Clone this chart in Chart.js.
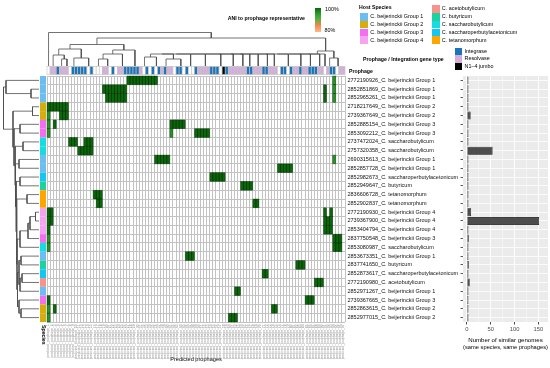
<!DOCTYPE html>
<html>
<head>
<meta charset="utf-8">
<title>Prophage ANI heatmap</title>
<script src="https://cdn.jsdelivr.net/npm/chart.js@4.4.1/dist/chart.umd.min.js"></script>
<style>
  html, body { margin: 0; padding: 0; background: #fff; }
  #fig { position: relative; width: 550px; height: 368px; overflow: hidden;
         font-family: "Liberation Sans", Arial, Helvetica, sans-serif; color: #000; }
  #fig canvas { position: absolute; }
  .lab { position: absolute; white-space: nowrap; font-size: 5.4px; line-height: 7px; }
  .ttl { position: absolute; white-space: nowrap; font-size: 5.2px; line-height: 7px; font-weight: bold; }
  .key { position: absolute; }
</style>
</head>
<body>
<div id="fig">
  <canvas id="heat" width="550" height="368" style="left:0;top:0"></canvas>
  <canvas id="colTree" style="top:31px"></canvas>
  <canvas id="rowTree" style="left:3px"></canvas>
  <canvas id="counts" width="110" height="368" style="left:440px;top:0"></canvas>
</div>
<script>
// genomes (heatmap rows, top to bottom)
var rowIds = ['2772190926', '2852851869', '2852965261', '2718217649', '2739367649', '2852885154',
  '2853092212', '2737472024', '2757320358', '2690315613', '2852857728', '2852982673', '2852949647',
  '2836606728', '2852902837', '2772190930', '2739367900', '2853404794', '2837750548', '2853080987',
  '2853673351', '2837741650', '2852873617', '2772190980', '2852971267', '2739367665', '2852863615',
  '2852977015'];
var rowSpecies = ['C. beijerinckii Group 1', 'C. beijerinckii Group 1', 'C. beijerinckii Group 1',
  'C. beijerinckii Group 2', 'C. beijerinckii Group 2', 'C. beijerinckii Group 3', 'C. beijerinckii Group 3',
  'C. saccharobutylicum', 'C. saccharobutylicum', 'C. beijerinckii Group 1', 'C. beijerinckii Group 1',
  'C. saccharoperbutylacetonicum', 'C. butyricum', 'C. tetanomorphum', 'C. tetanomorphum',
  'C. beijerinckii Group 4', 'C. beijerinckii Group 4', 'C. beijerinckii Group 4', 'C. beijerinckii Group 3',
  'C. saccharobutylicum', 'C. beijerinckii Group 1', 'C. butyricum', 'C. saccharoperbutylacetonicum',
  'C. acetobutylicum', 'C. beijerinckii Group 1', 'C. beijerinckii Group 3', 'C. beijerinckii Group 2',
  'C. beijerinckii Group 2'];

// number of similar genomes per row (bar panel)
var similarGenomes = [1, 1, 1, 2, 8, 1, 1, 2, 54, 1, 2, 2, 1, 1, 1, 9, 151, 1, 4, 1, 1, 4, 1, 6, 1, 1, 1, 1];
var countTicks = [0, 25, 50, 75, 100, 125, 150];

// integration gene type per predicted prophage (columns): i integrase, r resolvase, j N1-4 jumbo, . none
var geneType = '.rrirrr.iiiii.i...rr.i.rriiiiir.i.i.irirr.ii.i..irrrriii.jirrrrrriirrriirrr.ii.irrirriiirr.rii.rr'.split('');

// ANI hits: [row, first column, last column, ANI %]
var aniRuns = [
  [0, 26, 35, 100], [0, 93, 93, 96],
  [1, 18, 25, 100], [1, 90, 90, 100], [1, 93, 93, 96],
  [2, 19, 25, 100], [2, 90, 90, 100], [2, 93, 93, 96],
  [3, 0, 6, 100],
  [4, 0, 0, 96], [4, 4, 6, 100],
  [5, 0, 0, 96], [5, 2, 2, 100], [5, 40, 44, 100],
  [6, 0, 0, 96], [6, 40, 40, 96], [6, 48, 52, 100],
  [7, 7, 9, 100], [7, 12, 14, 100],
  [8, 10, 14, 100],
  [9, 35, 39, 100], [9, 93, 93, 96],
  [10, 75, 79, 100],
  [11, 53, 57, 100],
  [12, 63, 66, 100],
  [13, 15, 17, 100],
  [14, 16, 17, 100], [14, 67, 68, 100],
  [15, 0, 1, 100], [15, 90, 90, 100], [15, 92, 92, 100],
  [16, 0, 1, 100], [16, 90, 92, 100],
  [17, 0, 0, 100], [17, 90, 92, 100],
  [18, 0, 0, 96], [18, 93, 95, 100],
  [19, 0, 0, 96], [19, 93, 95, 100],
  [20, 45, 47, 100],
  [21, 81, 83, 100],
  [22, 70, 71, 100],
  [23, 87, 89, 100],
  [24, 61, 62, 100],
  [25, 0, 0, 100], [25, 84, 86, 100],
  [26, 0, 0, 96], [26, 2, 2, 100], [26, 73, 74, 100],
  [27, 0, 0, 96], [27, 59, 61, 100]
];

var speciesNames = ['C. beijerinckii Group 1', 'C. beijerinckii Group 2', 'C. beijerinckii Group 3',
  'C. beijerinckii Group 4', 'C. acetobutylicum', 'C. butyricum', 'C. saccharobutylicum',
  'C. saccharoperbutylacetonicum', 'C. tetanomorphum'];
var speciesColors = ['#6bbdf2', '#d6ad0c', '#f46ff0', '#f6a3f2', '#f8938b', '#1ed2a0', '#14dce0', '#12c7f4', '#ffa500'];
var typeCodes = ['i', 'r', 'j'];
var typeNames = ['Integrase', 'Resolvase', 'N1\u20134 jumbo'];
var typeColors = ['#1b74ba', '#d2aed9', '#000000'];
var aniStops = [[80, [252, 187, 140]], [86, [240, 132, 72]], [90, [96, 178, 70]], [95, [44, 158, 44]], [100, [12, 102, 12]]];

// dendrograms: [left, right, merge height]; numbers are leaves
function grp(a, b) {
  var n = a;
  for (var c = a + 1; c <= b; c++) n = [n, c, 0];
  return n;
}
function ladder(items, h) {
  var n = items[0];
  for (var i = 1; i < items.length; i++) n = [n, items[i], h];
  return n;
}
var colTree = [0, [
  [
    [[grp(1, 2), [grp(3, 5), 6, 7], 11], [grp(7, 9), grp(10, 14), 8], 17],
    [[[grp(15, 17), grp(18, 20), 7], grp(21, 25), 12], grp(26, 29), 16],
    21.5],
  [
    ladder([[grp(30, 32), grp(33, 36), 9], [grp(37, 39), grp(40, 44), 7],
      grp(45, 47), grp(48, 52), grp(53, 57), grp(58, 61), grp(62, 64), grp(65, 66),
      grp(67, 69), grp(70, 72), grp(73, 74), grp(75, 79), grp(80, 83), grp(84, 86),
      grp(87, 89), 90], 12),
    [grp(91, 92), grp(93, 95), 8],
    15],
  28], 33.5];

var rowTree = [[0, [1, 2, 8], 33],
  [[3, 4, 6.5],
    [[5, 6, 19],
      [[7, 8, 16],
        [[9, 10, 20],
          [[11, 12, 19],
            [[13, 14, 12],
              [[[[[15, 16, 3.5], 17, 9], 18, 11], 19, 19],
                [[[20, 21, 18], [[22, 23, 17], 24, 19], 20],
                  [25, [26, 27, 18], 20], 21.5], 22], 22.5], 23], 23.5], 24], 25], 26], 35.5];

var rowLabels = rowIds.map(function (id, i) { return id + '_' + rowSpecies[i]; });
var colLabels = geneType.map(function (t, i) { return 'predicted_prophage_' + (i + 1); });

Chart.defaults.font.family = '"Liberation Sans", Arial, Helvetica, sans-serif';

function aniColor(v) {
  var last = aniStops[aniStops.length - 1];
  for (var i = 1; i < aniStops.length; i++) {
    if (v <= aniStops[i][0]) {
      var a = aniStops[i - 1], b = aniStops[i], t = (v - a[0]) / (b[0] - a[0]);
      return 'rgb(' + a[1].map(function (c, k) { return Math.round(c + (b[1][k] - c) * t); }).join(',') + ')';
    }
  }
  return 'rgb(' + last[1].join(',') + ')';
}

var heatPlugin = {
  id: 'heatCells',
  afterDatasetsDraw: function (chart) {
    var xs = chart.scales.x, ys = chart.scales.y, area = chart.chartArea, ctx = chart.ctx;
    var cw = xs.width / colLabels.length, ch = ys.height / rowLabels.length;
    ctx.save();
    aniRuns.forEach(function (run) {
      var top = ys.getPixelForValue(run[0]) - ch / 2;
      var left = xs.getPixelForValue(run[1]) - cw / 2;
      ctx.fillStyle = aniColor(run[3]);
      ctx.fillRect(left, top, cw * (run[2] - run[1] + 1), ch);
    });
    ctx.lineWidth = 0.6;
    ctx.strokeStyle = 'rgba(0,35,0,0.55)';
    aniRuns.forEach(function (run) {
      var top = ys.getPixelForValue(run[0]) - ch / 2;
      for (var c = run[1]; c <= run[2]; c++) {
        ctx.strokeRect(xs.getPixelForValue(c) - cw / 2, top, cw, ch);
      }
    });
    rowSpecies.forEach(function (sp, i) {
      ctx.fillStyle = speciesColors[speciesNames.indexOf(sp)];
      ctx.fillRect(area.left - 7, ys.getPixelForValue(i) - ch / 2, 6, ch);
    });
    ctx.strokeStyle = '#c2c2c2';
    geneType.forEach(function (t, i) {
      var left = xs.getPixelForValue(i) - cw / 2;
      ctx.fillStyle = t === '.' ? '#ffffff' : typeColors[typeCodes.indexOf(t)];
      ctx.fillRect(left, area.top - 9.5, cw, 8);
      ctx.strokeRect(left, area.top - 9.5, cw, 8);
    });
    ctx.restore();
  }
};

var heat = new Chart(document.getElementById('heat'), {
  type: 'bar',
  data: { labels: colLabels, datasets: [] },
  options: {
    responsive: false,
    animation: false,
    events: [],
    layout: { padding: { left: 47, top: 76, right: 91, bottom: 5.4 } },
    plugins: { legend: { display: false }, tooltip: { enabled: false } },
    scales: {
      x: {
        type: 'category',
        offset: true,
        grid: { offset: true, color: '#c2c2c2', lineWidth: 1, drawTicks: false },
        border: { display: false },
        ticks: { autoSkip: false, minRotation: 90, maxRotation: 90, font: { size: 3.3 }, color: '#8a8a8a', padding: 2.5 },
        title: { display: true, text: 'Predicted prophages', font: { size: 5.6 }, color: '#000', padding: 0 },
        afterFit: function (s) { s.height = 40.6; }
      },
      y: {
        type: 'category',
        labels: rowLabels,
        position: 'right',
        offset: true,
        grid: { offset: true, color: '#c2c2c2', lineWidth: 1, drawTicks: false },
        border: { display: false },
        ticks: { autoSkip: false, font: { size: 5.5 }, color: '#111', padding: 2.5 },
        afterFit: function (s) { s.width = 114; }
      }
    }
  },
  plugins: [heatPlugin]
});

function treeDatasets(tree, byRow) {
  var links = [];
  (function walk(node) {
    if (typeof node === 'number') return { pos: node, h: 0 };
    var a = walk(node[0]), b = walk(node[1]);
    links.push([a, b, node[2]]);
    return { pos: (a.pos + b.pos) / 2, h: node[2] };
  })(tree);
  return links.filter(function (l) { return l[2] > 0; }).map(function (l) {
    var a = l[0], b = l[1], h = l[2];
    var pts = [[a.pos, a.h], [a.pos, h], [b.pos, h], [b.pos, b.h]];
    return {
      data: pts.map(function (p) { return byRow ? { x: p[1], y: p[0] } : { x: p[0], y: p[1] }; }),
      showLine: true, pointRadius: 0, borderColor: '#4f4f4f', borderWidth: 0.8, clip: false
    };
  });
}

function treeChart(canvas, tree, byRow, xScale, yScale) {
  return new Chart(canvas, {
    type: 'scatter',
    data: { datasets: treeDatasets(tree, byRow) },
    options: {
      responsive: false, animation: false, events: [],
      plugins: { legend: { display: false }, tooltip: { enabled: false } },
      scales: { x: xScale, y: yScale }
    }
  });
}

var area = heat.chartArea;
var colCanvas = document.getElementById('colTree');
colCanvas.width = Math.round(area.right - area.left);
colCanvas.height = 35;
colCanvas.style.left = area.left + 'px';
treeChart(colCanvas, colTree, false,
  { type: 'linear', display: false, min: -0.5, max: colLabels.length - 0.5 },
  { type: 'linear', display: false, min: 0, max: 35 });

var rowCanvas = document.getElementById('rowTree');
rowCanvas.width = 36;
rowCanvas.height = Math.round(area.bottom - area.top);
rowCanvas.style.top = area.top + 'px';
treeChart(rowCanvas, rowTree, true,
  { type: 'linear', display: false, reverse: true, min: 0, max: 36 },
  { type: 'linear', display: false, reverse: true, min: -0.5, max: rowLabels.length - 0.5 });

var panelPlugin = {
  id: 'panel',
  beforeDraw: function (chart) {
    var a = chart.chartArea, ctx = chart.ctx;
    ctx.save();
    ctx.fillStyle = '#ebebeb';
    ctx.fillRect(a.left, a.top, a.right - a.left, a.bottom - a.top);
    ctx.restore();
  }
};

new Chart(document.getElementById('counts'), {
  type: 'bar',
  data: {
    labels: rowLabels,
    datasets: [{
      data: similarGenomes, backgroundColor: '#4d4d4d', borderColor: '#000', borderWidth: 0.7,
      categoryPercentage: 0.9, barPercentage: 1, minBarLength: 1.6
    }]
  },
  options: {
    indexAxis: 'y',
    responsive: false,
    animation: false,
    events: [],
    layout: { padding: { left: 0, right: 2, top: 76, bottom: 17.5 } },
    plugins: { legend: { display: false }, tooltip: { enabled: false } },
    scales: {
      y: {
        offset: true,
        grid: { offset: false, color: '#ffffff', lineWidth: 0.8, tickColor: '#333', tickLength: 2.5 },
        border: { display: false },
        ticks: { autoSkip: false, padding: 0, callback: function () { return ''; } },
        afterFit: function (s) { s.width = 23; }
      },
      x: {
        min: -8,
        max: 170,
        afterBuildTicks: function (s) { s.ticks = countTicks.map(function (v) { return { value: v }; }); },
        grid: {
          color: '#ffffff',
          lineWidth: function (c) { return c.tick && c.tick.value % 50 === 0 ? 0.9 : 0.45; },
          tickColor: function (c) { return c.tick && c.tick.value % 50 === 0 ? '#333' : 'rgba(0,0,0,0)'; },
          tickLength: 2.5
        },
        border: { display: false },
        ticks: {
          maxRotation: 0, color: '#4d4d4d', font: { size: 5.8 }, padding: 1.5,
          callback: function (v) { return v % 50 === 0 ? String(v) : ''; }
        },
        title: {
          display: true, text: ['Number of similar genomes', '(same species, same prophages)'],
          font: { size: 6.1, lineHeight: 1.15 }, color: '#000', padding: 0
        },
        afterFit: function (s) { s.height = 28.5; }
      }
    }
  },
  plugins: [panelPlugin]
});

// legends and loose titles as page text
var fig = document.getElementById('fig');
function put(cls, text, x, cy, extra) {
  var d = document.createElement('div');
  d.className = cls;
  d.textContent = text;
  d.style.left = x + 'px';
  d.style.top = (cy - 3.5) + 'px';
  if (extra) d.style.cssText += extra;
  fig.appendChild(d);
  return d;
}
function box(x, y, w, h, bg) {
  var d = document.createElement('div');
  d.className = 'key';
  d.style.cssText = 'left:' + x + 'px;top:' + y + 'px;width:' + w + 'px;height:' + h + 'px;background:' + bg;
  fig.appendChild(d);
}

put('ttl', 'ANI to prophage representative', 227.7, 18.5);
box(314.5, 8, 6.5, 24, 'linear-gradient(to bottom,' + aniStops.slice().reverse().map(function (s) {
  return 'rgb(' + s[1].join(',') + ') ' + ((100 - s[0]) / 20 * 100) + '%';
}).join(',') + ')');
put('lab', '100%', 325, 9.5);
put('lab', '80%', 324.5, 30.5);

put('ttl', 'Host Species', 359, 7.4);
speciesNames.forEach(function (name, i) {
  var col = i < 4 ? 0 : 1, k = col ? i - 4 : i;
  var x = col ? 431.5 : 360, y = (col ? 4.8 : 12.7) + k * 7.9;
  box(x, y, 8, 7.9, speciesColors[i]);
  put('lab', name, x + 10.3, y + 3.95);
});

put('ttl', 'Prophage / Integration gene type', 363, 59);
typeNames.forEach(function (name, i) {
  var y = 47.7 + i * 7.45;
  box(455, y, 7, 7.45, typeColors[i]);
  put('lab', name, 464.5, y + 3.7);
});

put('ttl', 'Prophage', 349, 71.4);
var sp = put('ttl', 'Species', 40.3, 328);
sp.style.writingMode = 'vertical-rl';
sp.style.lineHeight = '5.6px';
</script>
</body>
</html>
